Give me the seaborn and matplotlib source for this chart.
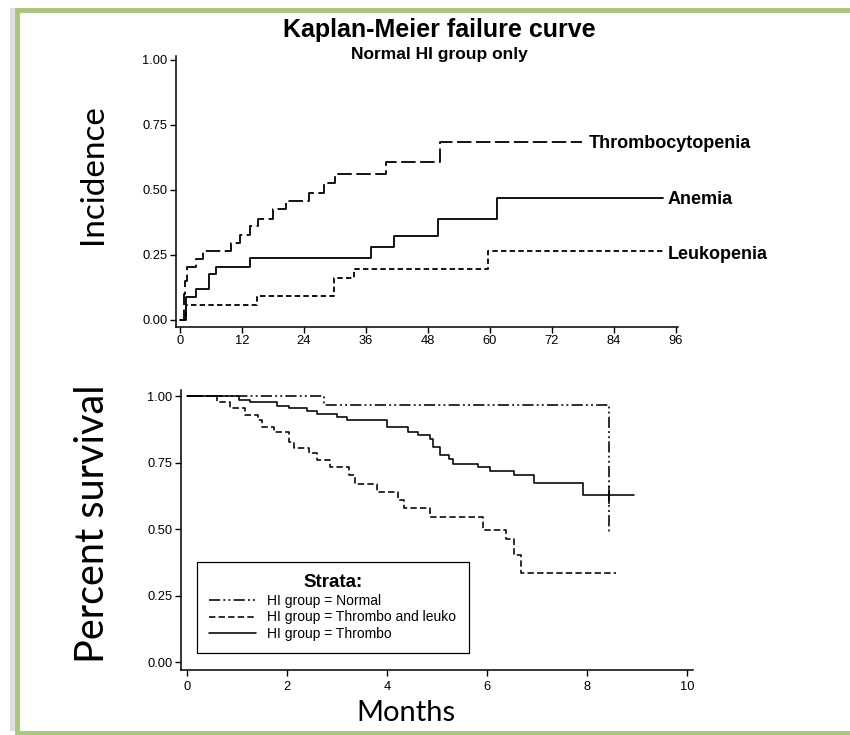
import matplotlib
matplotlib.use("Agg")
import matplotlib.pyplot as plt
import seaborn as sns
import pandas as pd
from matplotlib.patches import Rectangle

# ---------------- data ----------------
# Top panel: cumulative incidence (months)
thrombocytopenia_t = [0, 0.8, 1.0, 1.3, 3.1, 4.5, 9.9, 11.7, 13.5, 15.1, 18.0, 20.6, 25.0, 27.9, 30.0, 39.9, 50.3, 77.8]
thrombocytopenia_v = [0, 0.10, 0.15, 0.205, 0.235, 0.267, 0.297, 0.327, 0.363, 0.39, 0.426, 0.456, 0.49, 0.526, 0.561, 0.606, 0.686, 0.686]
anemia_t = [0, 1.2, 3.1, 5.7, 7.0, 13.5, 37.0, 41.5, 49.9, 61.3, 93.4]
anemia_v = [0, 0.088, 0.118, 0.176, 0.205, 0.24, 0.282, 0.323, 0.388, 0.469, 0.469]
leukopenia_t = [0, 1.2, 14.9, 29.8, 33.7, 59.7, 93.4]
leukopenia_v = [0, 0.058, 0.092, 0.16, 0.195, 0.264, 0.264]
top_xticks = [0, 12, 24, 36, 48, 60, 72, 84, 96]
yticks = [0.0, 0.25, 0.5, 0.75, 1.0]

# Bottom panel: survival (months)
normal_t = [0, 2.73, 8.43]
normal_s = [1, 0.966, 0.486]
thrombo_t = [0, 1.03, 1.26, 1.79, 2.03, 2.39, 2.59, 2.99, 3.19, 3.99, 4.43, 4.61, 4.86, 4.93,
             5.06, 5.23, 5.33, 5.83, 6.07, 6.53, 6.93, 7.91, 8.94]
thrombo_s = [1, 0.985, 0.976, 0.964, 0.954, 0.942, 0.932, 0.922, 0.91, 0.885, 0.866, 0.853, 0.84, 0.81,
             0.778, 0.763, 0.746, 0.734, 0.718, 0.703, 0.674, 0.628, 0.628]
tl_t = [0, 0.59, 0.86, 1.16, 1.41, 1.49, 1.73, 2.03, 2.13, 2.43, 2.59, 2.86, 3.23, 3.35, 3.79,
        4.21, 4.33, 4.86, 5.93, 6.39, 6.53, 6.67, 8.57]
tl_s = [1, 0.979, 0.954, 0.929, 0.91, 0.885, 0.866, 0.828, 0.803, 0.784, 0.759, 0.734, 0.703, 0.668, 0.638,
        0.609, 0.578, 0.546, 0.498, 0.461, 0.402, 0.333, 0.333]
censor_t = [8.43]
censor_s = [0.628]
bottom_xticks = [0, 2, 4, 6, 8, 10]

strata_labels = ["HI group = Normal", "HI group = Thrombo and leuko", "HI group = Thrombo"]
curve_labels = ["Thrombocytopenia", "Anemia", "Leukopenia"]

# ---------------- style ----------------
sns.set_style("ticks")
plt.rcParams['font.family'] = ['Liberation Sans', 'DejaVu Sans']
plt.rcParams['text.color'] = 'black'

W, H = 850, 735
fig = plt.figure(figsize=(8.5, 7.35), dpi=100)

# frame: shadow + green border (behind axes)
fig.patches.append(Rectangle((10 / W, 4 / H), 850 / W, 723 / H, transform=fig.transFigure,
                             facecolor='#c8c8c8', edgecolor='none', alpha=0.6, zorder=-3))
fig.patches.append(Rectangle((17 / W, 2 / H), 850 / W, 723 / H, transform=fig.transFigure,
                             facecolor='white', edgecolor='#a9c77a', linewidth=3.5, zorder=-2))

def px_axes(l, t, r, b):
    a = fig.add_axes([l / W, 1 - b / H, (r - l) / W, (b - t) / H])
    a.set_zorder(2)
    a.patch.set_alpha(0)
    return a

lw = 1.3
tick_fs = 9.3

# ---------------- top panel ----------------
ax1 = px_axes(176, 56, 678, 327)
top_specs = [
    (thrombocytopenia_t, thrombocytopenia_v, (0, (8, 2.5))),
    (anemia_t, anemia_v, '-'),
    (leukopenia_t, leukopenia_v, (0, (3, 1.8))),
]
for t, v, ls in top_specs:
    df = pd.DataFrame({"t": t, "v": v})
    sns.lineplot(data=df, x="t", y="v", ax=ax1, estimator=None, sort=False,
                 drawstyle='steps-post', color='black', linewidth=lw, linestyle=ls)
ax1.set_xlim(-0.77, 96.4)
ax1.set_ylim(-0.027, 1.015)
ax1.set_xticks(top_xticks)
ax1.set_yticks(yticks)
ax1.set_yticklabels([f"{y:.2f}" for y in yticks])
ax1.set_xlabel("")
ax1.set_ylabel("")
sns.despine(ax=ax1)
ax1.tick_params(labelsize=tick_fs, length=4, width=1, colors='black', pad=2)
for s in ax1.spines.values():
    s.set_linewidth(1.1)
    s.set_color('black')

lab_fs = 13
fig.text(589 / W, 1 - 143 / H, curve_labels[0], fontsize=lab_fs,
         fontweight='bold', va='center', ha='left')
fig.text(668 / W, 1 - 199 / H, curve_labels[1], fontsize=lab_fs,
         fontweight='bold', va='center', ha='left')
fig.text(668 / W, 1 - 255 / H, curve_labels[2], fontsize=lab_fs,
         fontweight='bold', va='center', ha='left')

fig.text(439 / W, 1 - 30 / H, "Kaplan-Meier failure curve", fontsize=18, fontweight='bold',
         ha='center', va='center')
fig.text(439 / W, 1 - 55 / H, "Normal HI group only", fontsize=12.5, fontweight='bold',
         ha='center', va='center')

# ---------------- bottom panel ----------------
ax2 = px_axes(181, 390, 693, 670)
bottom_specs = [
    (normal_t, normal_s, (0, (7, 2, 1.2, 2, 1.2, 2)), strata_labels[0]),
    (tl_t, tl_s, (0, (4, 2)), strata_labels[1]),
    (thrombo_t, thrombo_s, '-', strata_labels[2]),
]
for t, s_, ls, lab in bottom_specs:
    df = pd.DataFrame({"t": t, "s": s_})
    sns.lineplot(data=df, x="t", y="s", ax=ax2, estimator=None, sort=False,
                 drawstyle='steps-post', color='black', linewidth=1.15, linestyle=ls, label=lab)
sns.scatterplot(x=censor_t, y=censor_s, ax=ax2, marker='|', s=180, color='black',
                linewidth=1.1, legend=False)
ax2.set_xlim(-0.12, 10.12)
ax2.set_ylim(-0.03, 1.0226)
ax2.set_xticks(bottom_xticks)
ax2.set_yticks(yticks)
ax2.set_yticklabels([f"{y:.2f}" for y in yticks])
ax2.set_xlabel("")
ax2.set_ylabel("")
sns.despine(ax=ax2)
ax2.tick_params(labelsize=tick_fs, length=4, width=1, colors='black', pad=2)
ax2.tick_params(axis='x', pad=4)
for s in ax2.spines.values():
    s.set_linewidth(1.1)
    s.set_color('black')

x0 = (197 - 181) / 512
y0 = (670 - 653) / 280
wleg = (469 - 197) / 512
leg = ax2.legend(loc='lower left', bbox_to_anchor=(x0, y0, wleg, 0.3), mode='expand',
                 borderaxespad=0, fancybox=False, edgecolor='black', framealpha=1,
                 title="Strata:", title_fontproperties={'weight': 'bold', 'size': 13.5},
                 fontsize=10, handlelength=3.4, labelspacing=0.2, borderpad=0.85,
                 handletextpad=0.8)
leg._legend_box.align = "center"
leg.get_frame().set_linewidth(0.9)
# pull the entries a little toward the left edge of the box
for vp in leg._legend_handle_box.get_children():
    pass

# ---------------- big labels ----------------
big = ['Lato', 'DejaVu Sans']
fig.text(93 / W, 1 - 174 / H, "Incidence", rotation=90, fontsize=24, family=big,
         ha='center', va='center')
fig.text(93 / W, 1 - 524 / H, "Percent survival", rotation=90, fontsize=28.5, family=big,
         ha='center', va='center')
fig.text(406 / W, 1 - 713 / H, "Months", fontsize=21, family=big, ha='center', va='center')

fig.savefig("out.png", dpi=100)
